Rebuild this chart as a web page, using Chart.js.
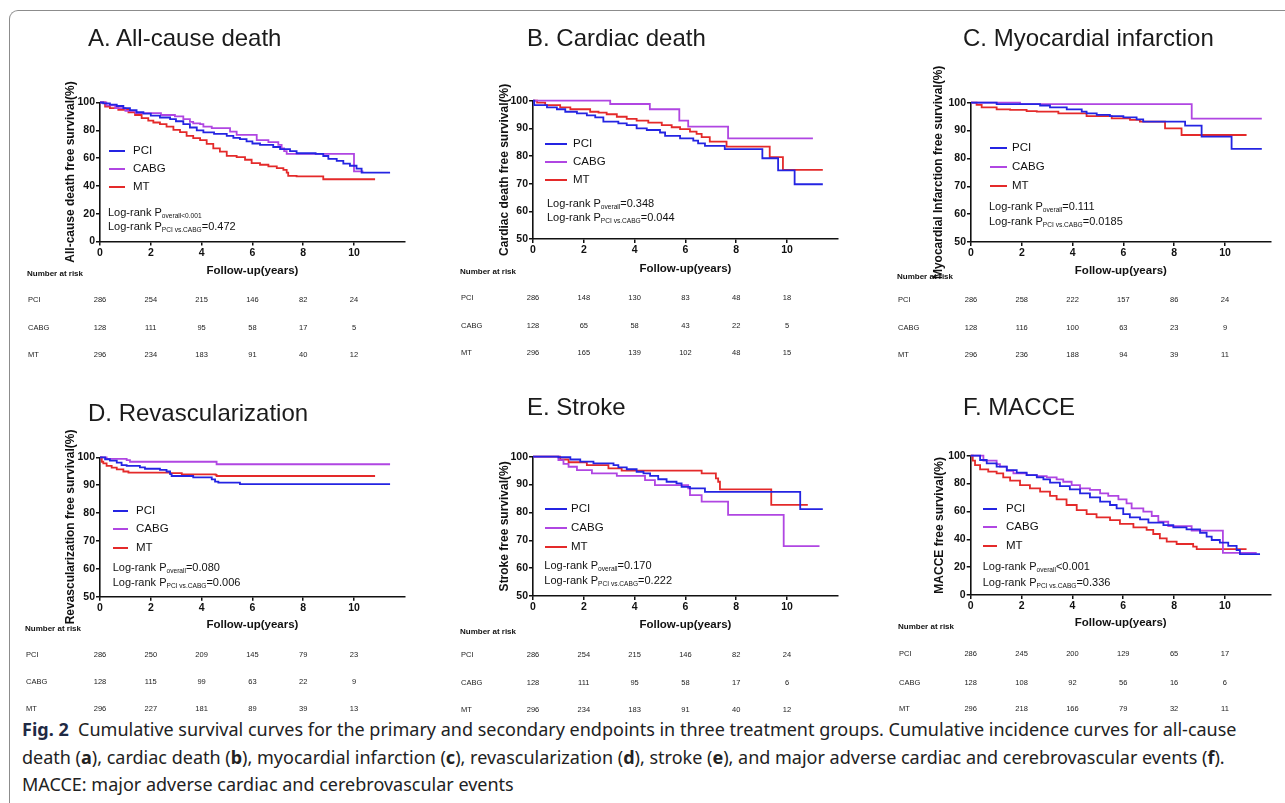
<!DOCTYPE html>
<html>
<head>
<meta charset="utf-8">
<script src="https://cdn.jsdelivr.net/npm/chart.js@4.4.1/dist/chart.umd.min.js"></script>
<style>
    body { margin: 0; width: 1285px; height: 803px; position: relative; overflow: hidden; background: #fff;
        font-family: "Liberation Sans", Arial, sans-serif; color: #111; }
    canvas { position: absolute; }
    .t { position: absolute; white-space: nowrap; transform: translateY(-50%); line-height: 1.2; }
    .c { transform: translate(-50%, -50%); }
    .frame { position: absolute; left: 9px; top: 10px; width: 1300px; height: 820px;
        border-left: 1px solid #8c8c8c; border-top: 1px solid #8c8c8c; border-top-left-radius: 9px; }
    .ptitle { font-size: 24px; color: #1b1b1b; }
    .leg { font-size: 11.5px; }
    .legline { position: absolute; height: 2px; transform: translateY(-50%); }
    .lr { font-size: 11px; }
    .lr sub { font-size: 6.6px; vertical-align: -2px; }
    .rhead { font-size: 8px; font-weight: bold; }
    .rlab, .rval { font-size: 7.5px; color: #222; }
    .cap { position: absolute; left: 22px; white-space: nowrap; font-family: "Noto Sans", sans-serif;
        font-size: 18px; color: #222; transform: translateY(-50%); }
    .cap b.fig { color: #1f2a44; }
</style>
</head>
<body>
<div class="frame"></div>
<div id="root"></div>
<div class="cap" style="top:729px"><b class="fig">Fig. 2</b>&nbsp; Cumulative survival curves for the primary and secondary endpoints in three treatment groups. Cumulative incidence curves for all-cause</div>
<div class="cap" style="top:757px">death (<b>a</b>), cardiac death (<b>b</b>), myocardial infarction (<b>c</b>), revascularization (<b>d</b>), stroke (<b>e</b>), and major adverse cardiac and cerebrovascular events (<b>f</b>).</div>
<div class="cap" style="top:784px">MACCE: major adverse cardiac and cerebrovascular events</div>
<script>
// Groups and the follow-up years of the number-at-risk table
const groups = ['PCI', 'CABG', 'MT'];
const groupColors = ['#2424e2', '#b046e2', '#e42a2a'];
const riskYears = [0, 2, 4, 6, 8, 10];
const yTicksFull = [0, 20, 40, 60, 80, 100];
const yTicksHalf = [50, 60, 70, 80, 90, 100];

// A. All-cause death  [years, survival %]
const allCausePCI = [[0, 100], [0.13, 99.3], [0.39, 98.5], [0.66, 97.5], [0.92, 96], [1.18, 94.5], [1.44, 93], [1.71, 92], [2.0, 90.5], [2.36, 89.2], [2.76, 88], [2.99, 86.5], [3.28, 84.5], [3.54, 82], [3.81, 80], [4.07, 78.5], [4.49, 77.5], [4.99, 76], [5.25, 74.5], [5.51, 73.6], [5.77, 72], [6.0, 70.5], [6.3, 69.5], [6.82, 68], [7.09, 66.5], [7.48, 65], [7.74, 63.5], [8.49, 63], [8.79, 61.5], [8.99, 59.5], [9.32, 58], [9.58, 56], [9.84, 54.5], [10.1, 52.5], [10.3, 49.6], [11.42, 49.6]];
const allCauseCABG = [[0, 100], [0.25, 98], [0.6, 96], [1.0, 94], [1.4, 92.3], [2.4, 91], [2.95, 90], [3.28, 88], [3.54, 86], [3.67, 85], [3.94, 84.4], [4.07, 82.7], [4.4, 81.5], [5.12, 79], [5.38, 76.7], [6.17, 73], [6.63, 71.5], [7.02, 69.5], [7.15, 67], [7.25, 65], [7.35, 63], [10.0, 50.4], [10.37, 50.4]];
const allCauseMT = [[0, 100], [0.2, 97], [0.39, 96], [0.72, 94.7], [1.12, 93], [1.38, 91], [1.64, 88.7], [1.9, 87], [2.1, 85.6], [2.36, 84.4], [2.62, 82.7], [2.89, 80.3], [3.15, 78.7], [3.41, 76], [3.67, 74.3], [3.94, 73], [4.2, 70.3], [4.46, 67], [4.72, 64.7], [4.99, 61.6], [5.38, 60.7], [5.71, 58.8], [5.97, 56.4], [6.3, 55.2], [6.63, 54], [6.96, 52.8], [7.22, 51.6], [7.35, 49.6], [7.41, 47.2], [7.74, 46.8], [8.79, 44.8], [10.83, 44.8]];
const allCauseRisk = [[286, 254, 215, 146, 82, 24], [128, 111, 95, 58, 17, 5], [296, 234, 183, 91, 40, 12]];

// B. Cardiac death
const cardiacPCI = [[0, 100], [0.05, 98.4], [0.55, 97.6], [0.94, 96.9], [1.27, 96], [1.73, 95.4], [2.12, 94.7], [2.45, 94], [2.77, 92.4], [3.36, 91.8], [3.69, 91.2], [4.08, 90], [4.48, 89.4], [5.0, 88.5], [5.2, 87.3], [5.79, 86.4], [6.31, 85.6], [6.5, 84.6], [6.77, 83.7], [7.55, 82.5], [9.03, 79.2], [9.65, 74.8], [10.3, 69.8], [11.41, 69.8]];
const cardiacCABG = [[0, 100], [3.04, 98.8], [4.6, 96.9], [5.76, 92.8], [6.11, 90.6], [7.68, 86.4], [11.02, 86.4]];
const cardiacMT = [[0, 100], [0.16, 99.3], [0.48, 98.4], [1.07, 97.6], [1.47, 96.9], [2.25, 96], [2.58, 95.7], [2.9, 95.1], [3.3, 94.2], [3.69, 93.4], [4.08, 92.8], [4.54, 92.1], [5.07, 91.2], [5.46, 90.4], [5.79, 89.7], [6.18, 88.8], [6.44, 88], [6.64, 86.8], [6.96, 85.2], [7.62, 83.4], [9.32, 79.6], [9.84, 75], [11.41, 75]];
const cardiacRisk = [[286, 148, 130, 83, 48, 18], [128, 65, 58, 43, 22, 5], [296, 165, 139, 102, 48, 15]];

// C. Myocardial infarction
const miPCI = [[0, 100], [1.01, 99.5], [2.72, 99], [3.11, 98.3], [3.77, 97.6], [4.36, 96.8], [4.55, 96.2], [4.95, 95.6], [5.47, 95.2], [6.0, 94.7], [6.52, 94], [6.78, 93.2], [8.43, 91.8], [9.08, 87.8], [10.26, 83.4], [11.45, 83.4]];
const miCABG = [[0, 100], [1.93, 99.5], [8.69, 94.3], [11.45, 94.3]];
const miMT = [[0, 100], [0.22, 99.2], [0.42, 98.3], [1.01, 97.6], [1.54, 97.4], [2.19, 97], [2.59, 96.8], [3.44, 96.2], [4.55, 95.2], [5.54, 94.4], [6.26, 93.8], [6.65, 93.2], [7.64, 90.8], [8.29, 88.4], [10.85, 88.4]];
const miRisk = [[286, 258, 222, 157, 86, 24], [128, 116, 100, 63, 23, 9], [296, 236, 188, 94, 39, 11]];

// D. Revascularization
const revascPCI = [[0, 100], [0.2, 99.3], [0.39, 98.8], [0.66, 98.1], [0.85, 97.2], [1.05, 96.9], [1.57, 96.4], [1.77, 95.9], [2.36, 95.5], [2.62, 94.9], [2.76, 94], [2.82, 93.3], [3.67, 92.8], [4.4, 92.1], [4.53, 91.3], [4.66, 90.9], [5.51, 90.4], [11.42, 90.4]];
const revascCABG = [[0, 100], [0.26, 99.4], [1.05, 99], [1.18, 98.4], [4.59, 97.5], [11.42, 97.5]];
const revascMT = [[0, 100], [0.07, 98.4], [0.13, 97.8], [0.26, 96.9], [0.46, 96.3], [0.66, 95.7], [0.92, 94.9], [1.12, 94.5], [2.76, 94.3], [3.22, 93.9], [4.55, 93.7], [4.59, 93.3], [10.83, 93.3]];
const revascRisk = [[286, 250, 209, 145, 79, 23], [128, 115, 99, 63, 22, 9], [296, 227, 181, 89, 39, 13]];

// E. Stroke
const strokePCI = [[0, 100], [1.0, 99.8], [1.47, 99], [1.86, 98.2], [2.38, 97.6], [3.17, 97], [3.36, 96.2], [3.69, 95.5], [4.08, 94.6], [4.35, 94], [4.61, 93.1], [4.93, 91.9], [5.26, 91], [5.65, 90.4], [5.85, 89.2], [6.18, 88.6], [6.77, 87.4], [10.52, 81.2], [11.41, 81.2]];
const strokeCABG = [[0, 100], [1.0, 98.8], [1.2, 97.4], [1.4, 96.4], [1.73, 95.2], [2.32, 94], [3.3, 93.1], [4.41, 91.6], [4.8, 89.8], [6.11, 88.6], [6.18, 86.2], [6.64, 83.9], [7.68, 79.1], [9.87, 67.9], [11.28, 67.9]];
const strokeMT = [[0, 100], [1.07, 99], [1.4, 98], [2.12, 97], [2.97, 95.8], [3.49, 95], [6.64, 94], [7.2, 92.2], [7.29, 91], [7.36, 88.3], [9.38, 82.7], [10.82, 82.7]];
const strokeRisk = [[286, 254, 215, 146, 82, 24], [128, 111, 95, 58, 17, 6], [296, 234, 183, 91, 40, 12]];

// F. MACCE
const maccePCI = [[0, 100], [0.37, 96.9], [0.63, 94.5], [1.02, 92.1], [1.42, 89.7], [1.81, 87.8], [2.2, 86.1], [2.6, 84.4], [2.86, 83], [3.12, 80.6], [3.51, 78.2], [3.9, 75.8], [4.3, 73], [4.69, 70.1], [5.09, 67], [5.48, 64.6], [5.74, 62.2], [6.0, 58.1], [6.26, 55.7], [6.66, 54.3], [6.99, 51.9], [7.58, 50.2], [7.97, 48.6], [8.49, 47.1], [9.02, 44.7], [9.28, 41.9], [9.48, 39.5], [9.8, 37.6], [10.13, 35.2], [10.46, 32.3], [10.59, 29.4], [11.38, 29.4]];
const macceCABG = [[0, 100], [0.5, 96.4], [1.02, 94], [1.15, 92.1], [1.42, 89.2], [1.68, 87.3], [2.2, 86.1], [2.6, 85.4], [2.99, 84.4], [3.38, 83], [3.64, 81.3], [3.97, 78.9], [4.3, 76.6], [4.69, 75.4], [5.09, 73], [5.41, 71.1], [5.81, 68.7], [6.13, 65.8], [6.33, 62.2], [6.79, 59.8], [7.12, 56.7], [7.38, 52.6], [7.77, 49.5], [8.69, 46.2], [9.92, 30.2], [11.25, 30.2]];
const macceMT = [[0, 100], [0.08, 96.4], [0.17, 93.3], [0.37, 90.2], [0.69, 88.5], [1.02, 87.3], [1.28, 84.4], [1.55, 82.1], [1.94, 78.9], [2.33, 76.6], [2.73, 74.2], [3.12, 71.1], [3.38, 68.7], [3.77, 64.6], [4.17, 61], [4.56, 58.1], [4.95, 55.7], [5.48, 53.8], [5.87, 51], [6.4, 48.6], [6.92, 46.7], [7.18, 43.8], [7.44, 40.7], [7.71, 38.3], [8.1, 36.6], [8.75, 34.7], [8.89, 33], [10.85, 33]];
const macceRisk = [[286, 245, 200, 129, 65, 17], [128, 108, 92, 56, 16, 6], [296, 218, 166, 79, 32, 11]];

// Panel layout (page pixels)
const panels = [
    {
        title: 'A. All-cause death', titleAt: [88, 38], yTitle: 'All-cause death free survival(%)',
        curves: [allCausePCI, allCauseCABG, allCauseMT], risk: allCauseRisk, yTicks: yTicksFull,
        pOverall: 'overall<0.001', pPair: '=0.472',
        area: { left: 100, top: 102.5, right: 404.8, bottom: 241.5 }, xMax: 12, yTitleX: 70, xTitleY: 270.5,
        legend: { x: 109, len: 16, textX: 133, ys: [150.5, 168.5, 186.5] },
        logrank: { x: 108, ys: [212.5, 226.5] },
        table: { x: 27, headY: 274, rowYs: [299, 327, 354] },
    },
    {
        title: 'B. Cardiac death', titleAt: [527, 38], yTitle: 'Cardiac death free survival(%)',
        curves: [cardiacPCI, cardiacCABG, cardiacMT], risk: cardiacRisk, yTicks: yTicksHalf,
        pOverall: 'overall', pOverallTail: '=0.348', pPair: '=0.044',
        area: { left: 533, top: 100.7, right: 837.8, bottom: 239 }, xMax: 12, yTitleX: 504, xTitleY: 269,
        legend: { x: 545, len: 22, textX: 573, ys: [143.5, 162, 180] },
        logrank: { x: 547, ys: [204, 218] },
        table: { x: 460, headY: 272, rowYs: [297, 325, 352] },
    },
    {
        title: 'C. Myocardial infarction', titleAt: [963, 38], yTitle: 'Myocardial Infarction free survival(%)',
        curves: [miPCI, miCABG, miMT], risk: miRisk, yTicks: yTicksHalf,
        pOverall: 'overall', pOverallTail: '=0.111', pPair: '=0.0185',
        area: { left: 971, top: 102.7, right: 1270.7, bottom: 242 }, xMax: 11.8, yTitleX: 938, xTitleY: 270.7,
        legend: { x: 990, len: 17, textX: 1012, ys: [148.3, 166.7, 186] },
        logrank: { x: 989, ys: [206.7, 221.7] },
        table: { x: 897, headY: 277, rowYs: [299, 327, 354] },
    },
    {
        title: 'D. Revascularization', titleAt: [88, 413], yTitle: 'Revascularization free survival(%)',
        curves: [revascPCI, revascCABG, revascMT], risk: revascRisk, yTicks: yTicksHalf,
        pOverall: 'overall', pOverallTail: '=0.080', pPair: '=0.006',
        area: { left: 100, top: 457.3, right: 404.8, bottom: 596.7 }, xMax: 12, yTitleX: 70, xTitleY: 625,
        legend: { x: 113, len: 15, textX: 136, ys: [510.7, 529.3, 548.3] },
        logrank: { x: 112.7, ys: [567.7, 582.7] },
        table: { x: 25, headY: 629, rowYs: [654, 681, 708] },
    },
    {
        title: 'E. Stroke', titleAt: [527, 407], yTitle: 'Stroke free survival(%)',
        curves: [strokePCI, strokeCABG, strokeMT], risk: strokeRisk, yTicks: yTicksHalf,
        pOverall: 'overall', pOverallTail: '=0.170', pPair: '=0.222',
        area: { left: 533, top: 456.7, right: 837.8, bottom: 596 }, xMax: 12, yTitleX: 504.5, xTitleY: 625,
        legend: { x: 545, len: 22, textX: 571, ys: [509.3, 528.3, 546.7] },
        logrank: { x: 544.3, ys: [566, 580.7] },
        table: { x: 460, headY: 632, rowYs: [654, 682, 709] },
    },
    {
        title: 'F. MACCE', titleAt: [963, 407], yTitle: 'MACCE free survival(%)',
        curves: [maccePCI, macceCABG, macceMT], risk: macceRisk, yTicks: yTicksFull,
        pOverall: 'overall', pOverallTail: '<0.001', pPair: '=0.336',
        area: { left: 970.7, top: 455.7, right: 1270.7, bottom: 595 }, xMax: 11.8, yTitleX: 939, xTitleY: 623.3,
        legend: { x: 983, len: 14, textX: 1006, ys: [509, 527.3, 546] },
        logrank: { x: 982.7, ys: [567.3, 582.7] },
        table: { x: 898, headY: 627, rowYs: [653, 682, 708] },
    },
];

Chart.defaults.font.family = '"Liberation Sans", Arial, sans-serif';
Chart.defaults.color = '#111';

const root = document.getElementById('root');

const addText = (html, cls, x, y) => {
    const el = document.createElement('div');
    el.className = `t ${cls}`;
    el.innerHTML = html;
    el.style.left = `${x}px`;
    el.style.top = `${y}px`;
    root.appendChild(el);
    return el;
};

const buildPanel = (p) => {
    const yTitleSize = 12;
    const xTitleSize = 11.5;
    const canvasLeft = Math.round(p.yTitleX - (yTitleSize * 1.2) / 2);
    const canvasTop = Math.round(p.area.top - 55);
    const yAxisW = p.area.left - canvasLeft;
    const xAxisH = p.xTitleY + (xTitleSize * 1.2) / 2 - p.area.bottom;
    const w = Math.ceil(p.area.right + 8 - canvasLeft);
    const h = Math.ceil(p.area.bottom + xAxisH + 20 - canvasTop);

    const canvas = document.createElement('canvas');
    canvas.width = w;
    canvas.height = h;
    canvas.style.left = `${canvasLeft}px`;
    canvas.style.top = `${canvasTop}px`;
    root.appendChild(canvas);

    const axisColor = '#111';
    const tickFont = { size: 10.5, weight: 'bold' };

    // Kaplan-Meier steps: stay flat until the next event, then drop
    const chart = new Chart(canvas.getContext('2d'), {
        type: 'line',
        data: {
            datasets: p.curves.map((curve, i) => ({
                label: groups[i],
                data: curve.map(([x, y]) => ({ x, y })),
                borderColor: groupColors[i],
                borderWidth: 1.8,
                pointRadius: 0,
                stepped: 'before',
                fill: false,
                clip: false,
            })),
        },
        options: {
            responsive: false,
            animation: false,
            devicePixelRatio: 1,
            layout: {
                padding: {
                    left: 0,
                    top: p.area.top - canvasTop,
                    right: w - (p.area.right - canvasLeft),
                    bottom: h - (p.area.bottom + xAxisH - canvasTop),
                },
            },
            plugins: { legend: { display: false }, tooltip: { enabled: false } },
            scales: {
                x: {
                    type: 'linear',
                    min: 0,
                    max: p.xMax,
                    afterBuildTicks: (s) => { s.ticks = riskYears.map((v) => ({ value: v })); },
                    afterFit: (s) => { s.height = xAxisH; },
                    ticks: { font: tickFont, color: axisColor, padding: 1, maxRotation: 0 },
                    grid: { drawOnChartArea: false, drawTicks: true, tickLength: 4, color: axisColor, lineWidth: 1.5 },
                    border: { display: true, color: axisColor, width: 1.6 },
                    title: {
                        display: true, text: 'Follow-up(years)', color: axisColor, padding: 0,
                        font: { size: xTitleSize, weight: 'bold' },
                    },
                },
                y: {
                    min: p.yTicks[0],
                    max: 100,
                    afterBuildTicks: (s) => { s.ticks = p.yTicks.map((v) => ({ value: v })); },
                    afterFit: (s) => { s.width = yAxisW; },
                    ticks: { font: tickFont, color: axisColor, padding: 1 },
                    grid: { drawOnChartArea: false, drawTicks: true, tickLength: 4, color: axisColor, lineWidth: 1.5 },
                    border: { display: true, color: axisColor, width: 1.6 },
                    title: {
                        display: true, text: p.yTitle, color: axisColor, padding: 0,
                        font: { size: yTitleSize, weight: 'bold' },
                    },
                },
            },
        },
    });

    // Panel heading
    addText(p.title, 'ptitle', p.titleAt[0], p.titleAt[1]);

    // Legend inside the plot
    groups.forEach((g, i) => {
        const line = document.createElement('div');
        line.className = 'legline';
        line.style.left = `${p.legend.x}px`;
        line.style.top = `${p.legend.ys[i]}px`;
        line.style.width = `${p.legend.len}px`;
        line.style.background = groupColors[i];
        root.appendChild(line);
        addText(g, 'leg', p.legend.textX, p.legend.ys[i]);
    });

    // Log-rank annotations
    addText(`Log-rank P<sub>${p.pOverall}</sub>${p.pOverallTail || ''}`, 'lr', p.logrank.x, p.logrank.ys[0]);
    addText(`Log-rank P<sub>PCI vs.CABG</sub>${p.pPair}`, 'lr', p.logrank.x, p.logrank.ys[1]);

    // Number at risk table, columns follow the x scale
    const xScale = chart.scales.x;
    addText('Number at risk', 'rhead', p.table.x, p.table.headY);
    groups.forEach((g, r) => {
        addText(g, 'rlab', p.table.x + 1, p.table.rowYs[r]);
        p.risk[r].forEach((n, c) => {
            const px = canvasLeft + xScale.getPixelForValue(riskYears[c]);
            addText(String(n), 'rval c', px, p.table.rowYs[r]);
        });
    });
};

panels.forEach(buildPanel);
</script>
</body>
</html>
